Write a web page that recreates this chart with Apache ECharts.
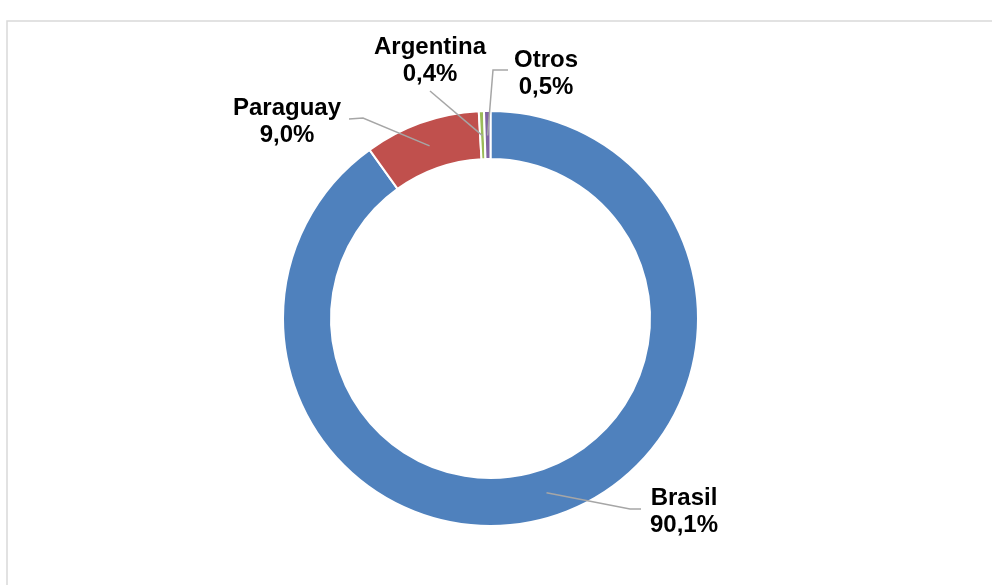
<!DOCTYPE html>
<html>
<head>
<meta charset="utf-8">
<script src="https://cdn.jsdelivr.net/npm/echarts@6/dist/echarts.min.js"></script>
<style>
html,body{margin:0;padding:0;background:#fff;}
#chart{width:992px;height:585px;}
</style>
</head>
<body>
<div id="chart"></div>
<script>
const categories = ['Brasil', 'Paraguay', 'Argentina', 'Otros'];
const values = [90.1, 9.0, 0.4, 0.5];
const valueLabels = ['90,1%', '9,0%', '0,4%', '0,5%'];
const colors = ['#4F81BD', '#C0504D', '#9BBB59', '#8064A2'];

const cx = 490.5, cy = 318.5, rIn = 159.5, rOut = 207.5;
// label centre positions and elbow points (layout only)
const labelPos = [[684, 512], [287, 122], [430, 61], [546, 74]];
const elbows = [[[630, 509], [641, 509]], [[363, 118], [349, 119]], [[430, 91], [430, 91]], [[493, 70], [508, 70]]];

const total = values.reduce((a, b) => a + b, 0);
function midPoint(i, r) {
  let before = 0;
  for (let k = 0; k < i; k++) before += values[k];
  const a = (before + values[i] / 2) / total * 2 * Math.PI; // clockwise from top
  return [cx + r * Math.sin(a), cy - r * Math.cos(a)];
}

const pieData = categories.map((c, i) => ({name: c, value: values[i], itemStyle: {color: colors[i]}}));

const chart = echarts.init(document.getElementById('chart'), null, {renderer: 'canvas'});
chart.setOption({
  animation: false,
  backgroundColor: '#ffffff',
  graphic: [{
    type: 'rect',
    shape: {x: 7, y: 21, width: 1100, height: 700},
    style: {fill: 'none', stroke: '#d9d9d9', lineWidth: 1.5},
    silent: true
  }],
  series: [{
    type: 'pie',
    z: 2,
    center: [cx, cy],
    radius: [rIn, rOut],
    startAngle: 90,
    clockwise: true,
    emphasis: {disabled: true},
    itemStyle: {borderColor: '#ffffff', borderWidth: 2},
    label: {show: false},
    labelLine: {show: false},
    data: pieData
  }, {
    type: 'pie',
    z: 5,
    silent: true,
    center: [cx, cy],
    radius: [rIn, rOut],
    startAngle: 90,
    clockwise: true,
    avoidLabelOverlap: false,
    emphasis: {disabled: true},
    itemStyle: {color: 'rgba(0,0,0,0)', borderWidth: 0},
    label: {
      show: true,
      formatter: p => p.name + '\n' + valueLabels[p.dataIndex],
      fontFamily: '"Liberation Sans", Arial, sans-serif',
      fontWeight: 'bold',
      fontSize: 24,
      lineHeight: 27,
      color: '#000000',
      align: 'center'
    },
    labelLine: {
      show: true,
      lineStyle: {color: '#a6a6a6', width: 1.5}
    },
    labelLayout: function (params) {
      const i = params.dataIndex;
      const s = midPoint(i, 183);
      return {
        x: labelPos[i][0],
        y: labelPos[i][1],
        align: 'center',
        verticalAlign: 'middle',
        labelLinePoints: [s, elbows[i][0], elbows[i][1]]
      };
    },
    data: categories.map((c, i) => ({name: c, value: values[i]}))
  }]
});
</script>
</body>
</html>
